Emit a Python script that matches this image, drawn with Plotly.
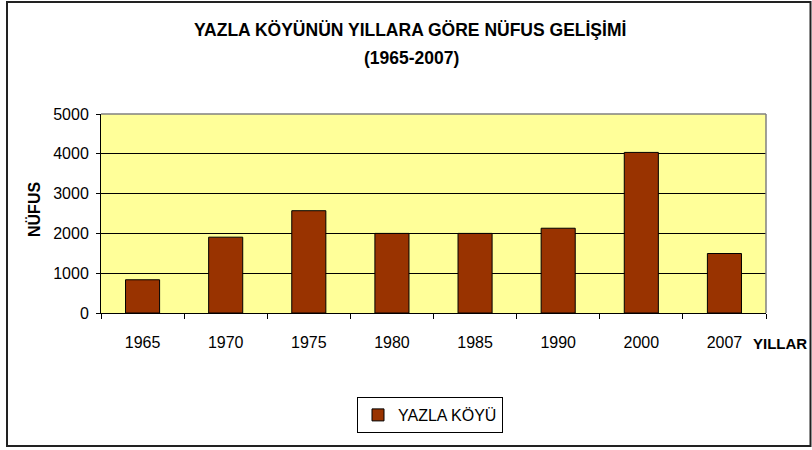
import plotly.graph_objects as go

years = ["1965", "1970", "1975", "1980", "1985", "1990", "2000", "2007"]
population = [835, 1905, 2570, 2000, 2000, 2130, 4035, 1495]
series_name = "YAZLA KÖYÜ"
title_line1 = "YAZLA KÖYÜNÜN YILLARA GÖRE NÜFUS GELİŞİMİ"
title_line2 = "(1965-2007)"
y_title = "NÜFUS"
x_title = "YILLAR"

W, H = 812, 450
L, R, T, B = 101, 46, 114, 137
PW, PH = W - L - R, H - T - B


def px(x):
    return (x - L) / PW


def py(y):
    return (H - B - y) / PH


FONT = "Liberation Sans, Arial, sans-serif"

fig = go.Figure(
    go.Bar(
        x=years,
        y=population,
        name=series_name,
        marker=dict(color="#993300", line=dict(color="#000000", width=1)),
        showlegend=True,
    )
)

fig.update_layout(
    width=W,
    height=H,
    margin=dict(l=L, r=R, t=T, b=B),
    paper_bgcolor="white",
    plot_bgcolor="#FFFF99",
    bargap=0.59,
    font=dict(family=FONT, size=16, color="black"),
    showlegend=True,
    legend=dict(
        x=px(430),
        y=py(415),
        xanchor="center",
        yanchor="middle",
        orientation="h",
        bordercolor="black",
        borderwidth=1,
        bgcolor="white",
        font=dict(family=FONT, size=16, color="black"),
        itemwidth=30,
    ),
    xaxis=dict(
        type="category",
        showgrid=False,
        showline=True,
        linecolor="black",
        linewidth=1,
        ticks="outside",
        tickson="boundaries",
        ticklen=5,
        tickcolor="black",
        ticklabelstandoff=15,
        tickfont=dict(size=16),
    ),
    yaxis=dict(
        range=[0, 5000],
        dtick=1000,
        showgrid=True,
        gridcolor="black",
        gridwidth=1,
        showline=True,
        linecolor="black",
        linewidth=1,
        ticks="outside",
        ticklen=4,
        tickcolor="black",
        ticklabelstandoff=4,
        tickfont=dict(size=16),
        zeroline=False,
    ),
)

# plot-area border (top & right, gray)
fig.add_shape(type="line", xref="paper", yref="paper", x0=0, x1=1, y0=1, y1=1,
              line=dict(color="#808080", width=1.5))
fig.add_shape(type="line", xref="paper", yref="paper", x0=1, x1=1, y0=0, y1=1,
              line=dict(color="#808080", width=1.5))

# outer chart border
fig.add_shape(type="rect", xref="paper", yref="paper",
              x0=px(7), x1=px(810.5), y0=py(2), y1=py(446),
              line=dict(color="#222222", width=2))

fig.add_annotation(text=f"<b>{title_line1}</b>", xref="paper", yref="paper",
                   x=px(410), y=py(30), xanchor="center", yanchor="middle",
                   showarrow=False, font=dict(family=FONT, size=17.5, color="black"))
fig.add_annotation(text=f"<b>{title_line2}</b>", xref="paper", yref="paper",
                   x=px(411), y=py(58), xanchor="center", yanchor="middle",
                   showarrow=False, font=dict(family=FONT, size=17.5, color="black"))
fig.add_annotation(text=f"<b>{y_title}</b>", xref="paper", yref="paper",
                   x=px(34), y=py(210), xanchor="center", yanchor="middle",
                   textangle=-90, showarrow=False,
                   font=dict(family=FONT, size=16, color="black"))
fig.add_annotation(text=f"<b>{x_title}</b>", xref="paper", yref="paper",
                   x=px(751), y=py(343), xanchor="left", yanchor="middle",
                   showarrow=False, font=dict(family=FONT, size=15, color="black"))

fig.write_html(
    "out.html",
    config={"displayModeBar": False},
    post_script="document.body.style.margin='0';document.body.style.overflow='hidden';",
)
